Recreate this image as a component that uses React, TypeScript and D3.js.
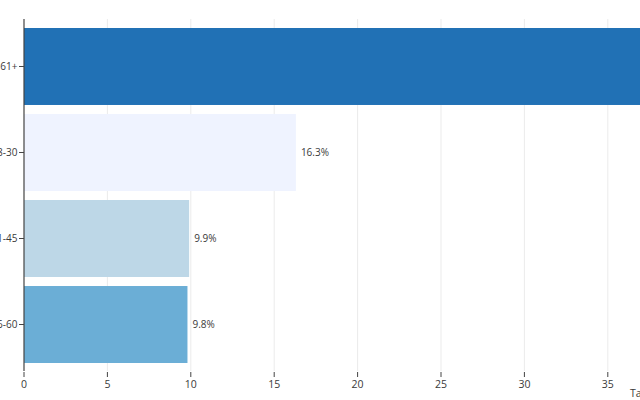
import React from "react";
import * as d3 from "d3";

const categories = ["61+", "18-30", "31-45", "46-60"];
const values = [64.0, 16.3, 9.9, 9.8];
const colors = ["#2171b5", "#eff3ff", "#bdd7e7", "#6baed6"];
const xTicks = [0, 5, 10, 15, 20, 25, 30, 35];
const xTitle = "Taxa (%)";

export default function App() {
  const W = 640;
  const H = 400;
  const left = 24;
  const top = 19;
  const bottom = 371;
  const x = d3.scaleLinear().domain([0, 70]).range([left, left + 70 * 16.68]);
  const y = d3
    .scaleBand<string>()
    .domain(categories)
    .range([23.7, 367.3])
    .paddingInner(0.105)
    .paddingOuter(0.05);
  const font = "'Open Sans', 'Noto Sans', sans-serif";
  const ink = "#3a3a3a";
  return (
    <svg
      width={W}
      height={H}
      style={{ position: "absolute", left: 0, top: 0, background: "#fff" }}
      fontFamily={font}
    >
      {xTicks.map((t) => (
        <g key={t}>
          {t > 0 && (
            <line x1={x(t)} x2={x(t)} y1={top} y2={bottom} stroke="#ebebeb" strokeWidth={1} />
          )}
          <line x1={x(t)} x2={x(t)} y1={372} y2={377} stroke="#444" strokeWidth={1} />
          <text x={x(t)} y={388} textAnchor="middle" fontSize={10.5} fill={ink}>
            {t}
          </text>
        </g>
      ))}
      {categories.map((c, i) => (
        <g key={c}>
          <rect
            x={x(0)}
            y={y(c)!}
            width={x(values[i]) - x(0)}
            height={y.bandwidth()}
            fill={colors[i]}
          />
          <text
            x={x(values[i]) + 5}
            y={y(c)! + y.bandwidth() / 2}
            dy="0.35em"
            fontSize={10}
            fill={ink}
          >
            {values[i].toFixed(1)}%
          </text>
          <line
            x1={left - 5}
            x2={left}
            y1={y(c)! + y.bandwidth() / 2}
            y2={y(c)! + y.bandwidth() / 2}
            stroke="#444"
          />
          <text
            x={left - 6.5}
            y={y(c)! + y.bandwidth() / 2}
            dy="0.35em"
            textAnchor="end"
            fontSize={10}
            fill={ink}
          >
            {c}
          </text>
        </g>
      ))}
      <line x1={left} x2={left} y1={top} y2={bottom} stroke="#444" strokeWidth={1.2} />
      <text x={630} y={397} fontSize={10.5} fill={ink}>
        {xTitle}
      </text>
    </svg>
  );
}
